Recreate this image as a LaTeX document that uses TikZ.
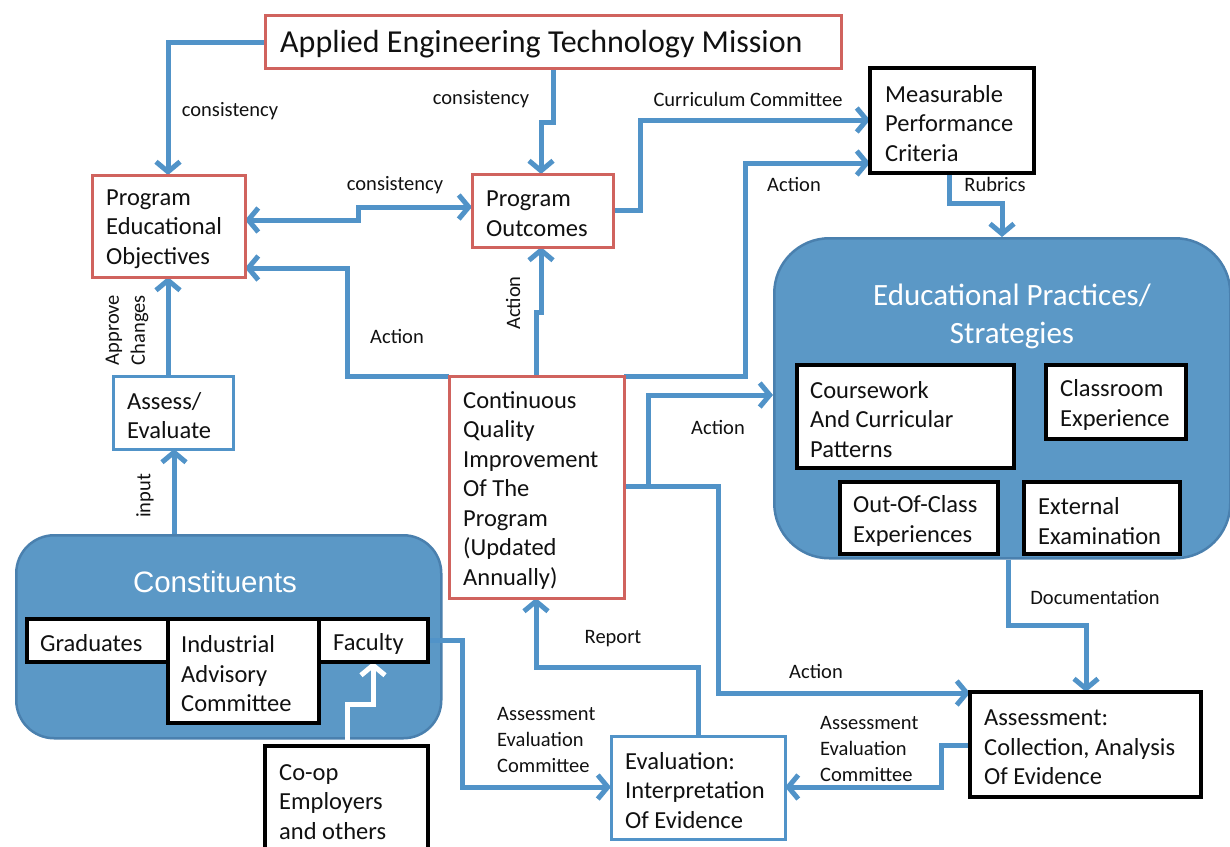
\documentclass[tikz,border=0pt]{standalone}
\usepackage{fontspec}
\setmainfont{Carlito}
\newfontfamily\arialfont{Liberation Sans}
\usetikzlibrary{arrows.meta}
\definecolor{lineblue}{HTML}{5193C8}
\definecolor{fillblue}{HTML}{5B98C6}
\definecolor{edgeblue}{HTML}{4A80AE}
\definecolor{boxred}{HTML}{D0635E}
\definecolor{txtc}{HTML}{111111}
\newcommand\fmain{\fontsize{24.5}{29.5}\selectfont}
\newcommand\flab{\fontsize{20.5}{26}\selectfont}
\newcommand\ftitle{\fontsize{32}{38}\selectfont}
\pgfdeclarelayer{bg}
\pgfdeclarelayer{lines}
\pgfsetlayers{bg,lines,main}
\begin{document}
\begin{tikzpicture}[x=1pt,y=-1pt,
  tip/.tip={Straight Barb[length=10pt,width=24pt]},
  conn/.style={draw=lineblue,line width=5pt,-tip},
  boxbase/.style={anchor=north west,fill=white,inner sep=0pt,outer sep=0pt},
  redbox/.style={boxbase,draw=boxred,line width=3pt},
  bluebox/.style={boxbase,draw=lineblue,line width=3pt},
  blackbox/.style={boxbase,draw=black,line width=3.5pt},
  txt/.style={anchor=west,align=left,inner sep=0pt,font=\fmain,text=txtc,yshift=-3pt},
  lab/.style={inner sep=0pt,font=\flab,text=txtc},
  bigbox/.style={anchor=north west,fill=fillblue,draw=edgeblue,line width=2.5pt,inner sep=0pt}
]
\useasboundingbox (0,0) rectangle (1230,846);

% big rounded containers
\begin{pgfonlayer}{bg}
\node[bigbox,rounded corners=55pt,minimum width=456,minimum height=320] (eps) at (773,237) {};
\node[bigbox,rounded corners=38pt,minimum width=425,minimum height=203] (const) at (15,534) {};
\end{pgfonlayer}

\node[font=\fontsize{31}{38}\selectfont,text=white,align=center] (epst) at (1012,316) {Educational Practices/\\Strategies};
\node[font=\arialfont\fontsize{29.5}{34}\selectfont,text=white] (constt) at (215,582) {Constituents};

% boxes
\node[redbox,minimum width=576,minimum height=53] (mission) at (265,15) {};
\node[txt,font=\ftitle] (missiont) at ([xshift=15pt]mission.west) {Applied Engineering Technology Mission};

\node[redbox,minimum width=153,minimum height=102] (peo) at (92,175) {};
\node[txt] (peot) at ([xshift=14pt]peo.west) {Program\\Educational\\Objectives};

\node[redbox,minimum width=141,minimum height=73] (po) at (472,174) {};
\node[txt] (pot) at ([xshift=14pt]po.west) {Program\\Outcomes};

\node[blackbox,minimum width=164,minimum height=105] (mpc) at (870,68) {};
\node[txt] (mpct) at ([xshift=15pt]mpc.west) {Measurable\\Performance\\Criteria};

\node[redbox,minimum width=175,minimum height=222] (cqi) at (449,376) {};
\node[txt] (cqit) at ([xshift=14pt]cqi.west) {Continuous\\Quality\\Improvement\\Of The\\Program\\(Updated\\Annually)};

\node[bluebox,minimum width=120,minimum height=73] (assess) at (113,376) {};
\node[txt] (assesst) at ([xshift=14pt]assess.west) {Assess/\\Evaluate};

\node[bluebox,minimum width=174,minimum height=103] (eval) at (611,736) {};
\node[txt] (evalt) at ([xshift=14pt]eval.west) {Evaluation:\\Interpretation\\Of Evidence};

\node[blackbox,minimum width=231,minimum height=105] (asmt) at (970,692) {};
\node[txt] (asmtt) at ([xshift=14pt]asmt.west) {Assessment:\\Collection, Analysis\\Of Evidence};

\node[blackbox,minimum width=217,minimum height=103] (course) at (797,365) {};
\node[txt] (courset) at ([xshift=13pt]course.west) {Coursework\\And Curricular\\Patterns};

\node[blackbox,minimum width=140,minimum height=74] (class) at (1046,365) {};
\node[txt] (classt) at ([xshift=14pt]class.west) {Classroom\\Experience};

\node[blackbox,minimum width=158,minimum height=72] (outc) at (840,482) {};
\node[txt] (outct) at ([xshift=13pt]outc.west) {Out-Of-Class\\Experiences};

\node[blackbox,minimum width=156,minimum height=72] (ext) at (1024,482) {};
\node[txt] (extt) at ([xshift=14pt]ext.west) {External\\Examination};

\node[blackbox,minimum width=141,minimum height=43] (grad) at (27,619) {};
\node[txt] (gradt) at ([xshift=13pt]grad.west) {Graduates};

\node[blackbox,minimum width=151,minimum height=104] (ind) at (168,619) {};
\node[txt] (indt) at ([xshift=13pt]ind.west) {Industrial\\Advisory\\Committee};

\node[blackbox,minimum width=109,minimum height=43] (fac) at (319,619) {};
\node[txt] (fact) at ([xshift=14pt]fac.west) {Faculty};

\node[blackbox,minimum width=163,minimum height=106] (coop) at (265,746) {};
\node[txt] (coopt) at ([xshift=14pt]coop.west) {Co-op\\Employers\\and others};

% labels
\node[lab] (l1) at (230,111) {consistency};
\node[lab] (l2) at (481,99) {consistency};
\node[lab] (l3) at (395,185) {consistency};
\node[lab] (l4) at (748,99) {Curriculum Committee};
\node[lab] (l5) at (794,184) {Action};
\node[lab] (l6) at (995,184) {Rubrics};
\node[lab] (l7) at (397,336) {Action};
\node[lab,rotate=90] (l8) at (513,303) {Action};
\node[lab,rotate=90,align=left] (l9) at (127,330) {Approve\\Changes};
\node[lab,rotate=90] (l10) at (145,496) {input};
\node[lab] (l11) at (718,427) {Action};
\node[lab] (l12) at (1095,597) {Documentation};
\node[lab] (l13) at (816,671) {Action};
\node[lab] (l14) at (613,639) {Report};
\node[lab,anchor=west,align=left] (l15) at (497,740) {Assessment\\Evaluation\\Committee};
\node[lab,anchor=west,align=left] (l16) at (820,749) {Assessment\\Evaluation\\Committee};

% connectors
\begin{pgfonlayer}{lines}
\draw[conn] (mission.west |- 0,42) -- (168,42) -- (peo.north -| 168,0);
\draw[conn] (mission.south -| 553,0) -- (553,122) -- (541,122) -- (po.north -| 541,0);
\draw[conn,tip-tip] (peo.east |- 0,220) -- (358,220) -- (358,207) -- (po.west |- 0,207);
\draw[conn] (po.east |- 0,210) -- (640,210) -- (640,120) -- (mpc.west |- 0,120);
\draw[conn] (cqi.north -| 536,0) -- (536,312) -- (541,312) -- (po.south -| 541,0);
\draw[conn] (cqi.north west) -- (347,376) -- (347,268) -- (peo.east |- 0,268);
\draw[conn] (cqi.north east) -- (745,376) -- (745,163) -- (mpc.west |- 0,163);
\draw[conn] (mpc.south -| 949,0) -- (949,203) -- (1002,203) -- (eps.north -| 1002,0);
\draw[conn] (cqi.east |- 0,486) -- (648,486) -- (648,395) -- (eps.west |- 0,395);
\draw[conn] (cqi.east |- 0,486) -- (718,486) -- (718,693) -- (asmt.west |- 0,693);
\draw[conn] (eps.south -| 1008,0) -- (1008,625) -- (1086,625) -- (asmt.north -| 1086,0);
\draw[conn] (asmt.west |- 0,745) -- (941,745) -- (941,787) -- (eval.east |- 0,787);
\draw[conn] (eval.north -| 698,0) -- (698,667) -- (536,667) -- (cqi.south -| 536,0);
\draw[conn] (fac.east |- 0,640) -- (462,640) -- (462,787) -- (eval.west |- 0,787);
\draw[conn,draw=white] (coop.north -| 347,0) -- (347,704) -- (373,704) -- (fac.south -| 373,0);
\draw[conn] (const.north -| 174,0) -- (assess.south -| 174,0);
\draw[conn] (assess.north -| 168,0) -- (peo.south -| 168,0);
\end{pgfonlayer}
\end{tikzpicture}
\end{document}
